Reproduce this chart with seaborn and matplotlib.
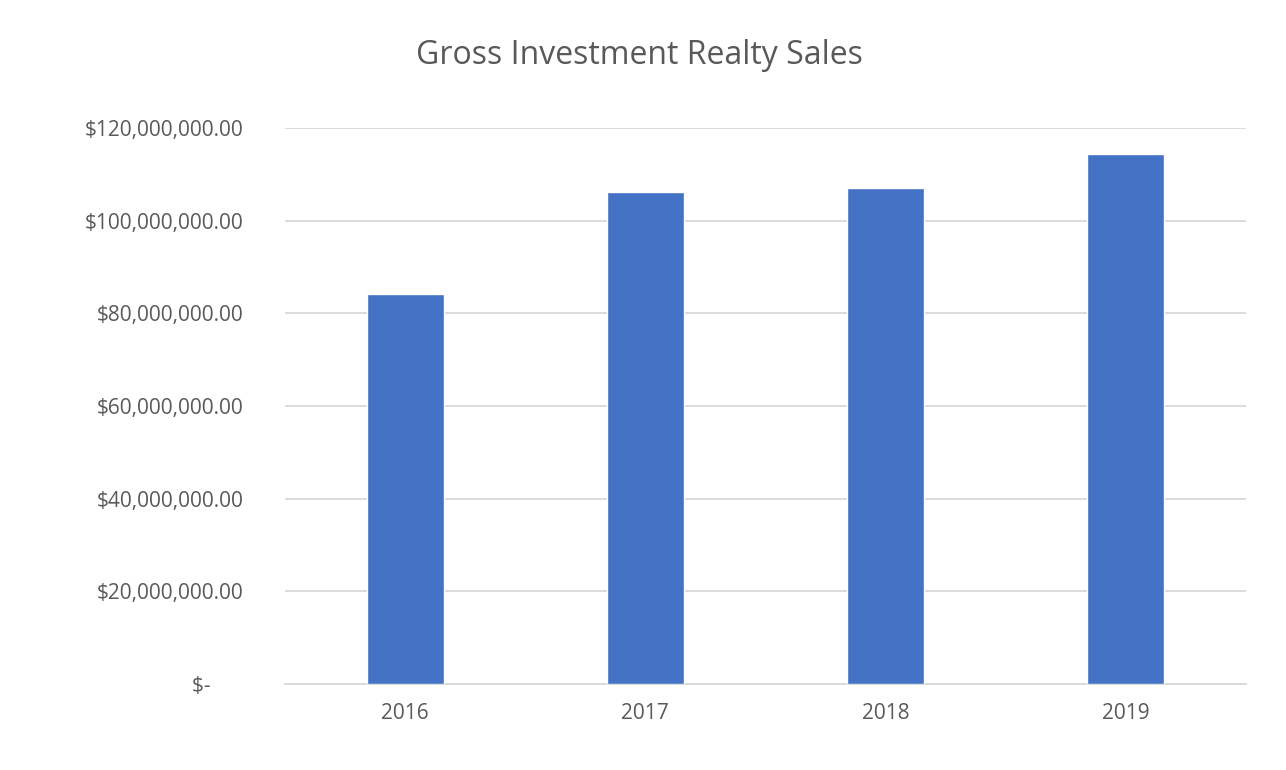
import matplotlib
matplotlib.use("Agg")
import matplotlib.pyplot as plt
import seaborn as sns
import pandas as pd
from matplotlib.ticker import FuncFormatter

# ---------------------------------------------------
# Data
# ---------------------------------------------------
years = ["2016", "2017", "2018", "2019"]
sales = [84_200_000, 106_200_000, 107_100_000, 114_400_000]

df = pd.DataFrame({"year": years, "sales": sales})

sns.set_theme(style="white")
plt.rcParams["font.family"] = ["Open Sans", "DejaVu Sans"]

fig = plt.figure(figsize=(12.86, 7.7), dpi=100)
ax = fig.add_axes([285 / 1286, 1 - 684 / 770, (1246 - 285) / 1286, (684 - 128) / 770])

sns.barplot(data=df, x="year", y="sales", color="#4472C4", width=0.32,
            saturation=1, ax=ax, zorder=3)

ax.set_ylim(0, 120_000_000)
ax.set_yticks(range(0, 120_000_001, 20_000_000))


def money(v, pos):
    if v == 0:
        return "$-      "
    return f"${v:,.2f}"


ax.yaxis.set_major_formatter(FuncFormatter(money))
ax.grid(axis="y", color="#d9d9d9", linewidth=1.3, zorder=0)
for s in ["top", "right", "left"]:
    ax.spines[s].set_visible(False)
ax.spines["bottom"].set_color("#d9d9d9")
ax.spines["bottom"].set_linewidth(1.3)
ax.tick_params(axis="both", length=0, labelsize=15, labelcolor="#595959")
ax.tick_params(axis="x", pad=14)
ax.tick_params(axis="y", pad=30)
ax.set_xlabel("")
ax.set_ylabel("")

fig.text(0.497, 1 - 55 / 770, "Gross Investment Realty Sales", ha="center",
         va="center", fontsize=23, color="#595959")

fig.savefig("out.png", dpi=100)
plt.close()
